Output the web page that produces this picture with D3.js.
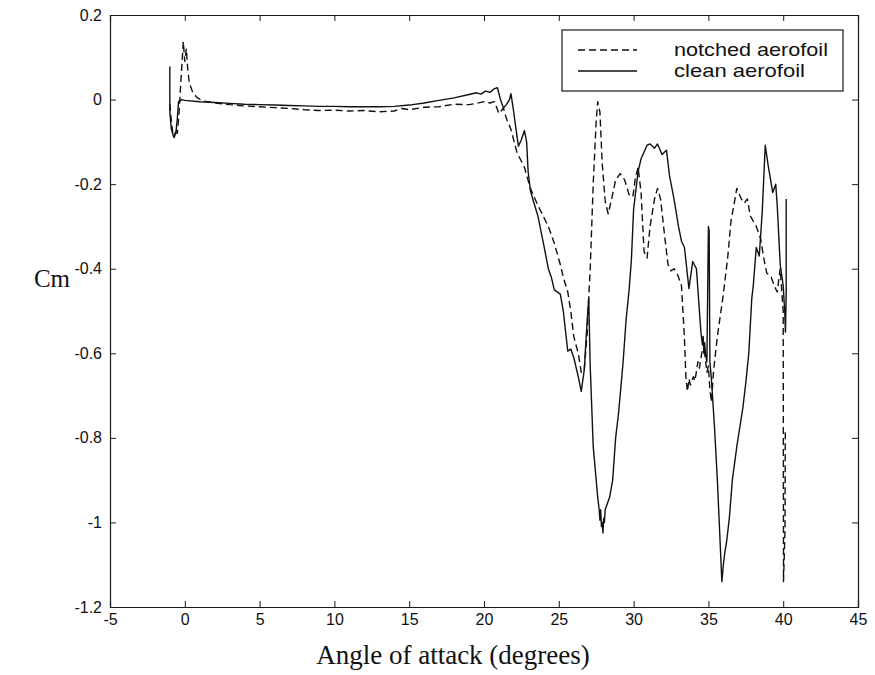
<!DOCTYPE html>
<html>
<head>
<meta charset="utf-8">
<script src="https://cdn.jsdelivr.net/npm/d3@7/dist/d3.min.js"></script>
<style>
  html, body { margin: 0; padding: 0; background: #fff; }
  svg { display: block; }
  .tick text { font-family: Arial, "Liberation Sans", Helvetica, sans-serif; fill: #111; }
</style>
</head>
<body>
<svg id="chart" width="875" height="675"></svg>
<script>
// Pitching moment coefficient vs angle of attack, notched and clean aerofoil

const xTicks = [-5, 0, 5, 10, 15, 20, 25, 30, 35, 40, 45];
const xTickLabels = ["-5", "0", "5", "10", "15", "20", "25", "30", "35", "40", "45"];
const yTicks = [0.2, 0, -0.2, -0.4, -0.6, -0.8, -1, -1.2];
const yTickLabels = ["0.2", "0", "-0.2", "-0.4", "-0.6", "-0.8", "-1", "-1.2"];

const seriesNames = ["notched aerofoil", "clean aerofoil"];

// clean aerofoil (solid)
const cleanAngle = [
  -1.0, -1.0, -0.9, -0.75, -0.6, -0.5, -0.42, -0.2, 0, 1, 2, 3, 4, 5, 6, 7, 8, 9, 10,
  11, 12, 13, 14, 15, 16, 17, 18, 19, 19.5, 19.8, 20.1, 20.4, 20.7, 20.9, 21.1, 21.3,
  21.5, 21.7, 21.8, 21.95, 22.1, 22.3, 22.5, 22.7, 22.85, 22.95, 23.1, 23.3, 23.6, 23.8,
  24.0, 24.3, 24.5, 24.7, 25.1, 25.3, 25.6, 25.8, 26.0, 26.3, 26.5, 26.7, 26.9, 27.0,
  27.1, 27.3, 27.6, 27.7, 27.75, 27.8, 27.85, 27.9, 27.95, 28.0, 28.05, 28.1, 28.2, 28.4,
  28.6, 28.8, 29.0, 29.3, 29.5, 29.7, 29.85, 30.0, 30.3, 30.5, 30.9, 31.1, 31.4, 31.6,
  31.9, 32.2, 32.4, 32.7, 33.0, 33.2, 33.4, 33.7, 33.95, 34.2, 34.5, 34.6, 34.65, 34.7,
  34.75, 34.8, 34.9, 35.0, 35.05, 35.1, 35.2, 35.4, 35.6, 35.8, 35.9, 36.0, 36.1, 36.2,
  36.4, 36.6, 36.9, 37.3, 37.5, 37.7, 37.9, 38.0, 38.2, 38.4, 38.6, 38.8, 39.0, 39.3,
  39.5, 39.6, 39.8, 40.0, 40.1, 40.15, 40.2, 40.2
];
const cleanCm = [
  0.078, -0.03, -0.07, -0.088, -0.08, -0.045, -0.005, 0.0, -0.002, -0.005, -0.007, -0.009,
  -0.011, -0.012, -0.013, -0.014, -0.015, -0.016, -0.016, -0.017, -0.017, -0.017, -0.016,
  -0.013, -0.008, -0.002, 0.004, 0.012, 0.016, 0.013, 0.02, 0.017, 0.026, 0.028, 0.0,
  -0.02, -0.012, 0.0, 0.014, -0.02, -0.06, -0.11, -0.095, -0.073, -0.1, -0.17, -0.215,
  -0.24, -0.275, -0.31, -0.345, -0.4, -0.42, -0.45, -0.46, -0.5, -0.595, -0.59, -0.61,
  -0.655, -0.69, -0.64, -0.52, -0.47, -0.63, -0.82, -0.94, -0.97, -0.995, -0.97, -1.01,
  -1.0, -1.025, -0.99, -1.0, -0.97, -0.96, -0.94, -0.9, -0.8, -0.74, -0.62, -0.52, -0.45,
  -0.38, -0.26, -0.17, -0.14, -0.108, -0.105, -0.115, -0.105, -0.13, -0.12, -0.18,
  -0.235, -0.3, -0.335, -0.35, -0.447, -0.383, -0.4, -0.55, -0.58, -0.56, -0.6, -0.575,
  -0.6, -0.62, -0.3, -0.31, -0.62, -0.66, -0.77, -0.9, -1.06, -1.14, -1.1, -1.07, -1.05,
  -0.99, -0.9, -0.82, -0.73, -0.67, -0.6, -0.47, -0.44, -0.35, -0.37, -0.265, -0.108,
  -0.157, -0.22, -0.2, -0.25, -0.39, -0.44, -0.5, -0.55, -0.46, -0.235
];

// notched aerofoil (dashed)
const notchedAngle = [
  -1.0, -0.9, -0.8, -0.7, -0.6, -0.5, -0.4, -0.3, -0.2, -0.1, 0.0, 0.1, 0.2, 0.3, 0.5,
  0.8, 1.2, 2, 3, 4, 5, 6, 7, 8, 9, 10, 11, 12, 13, 14, 14.5, 15, 16, 17, 18, 19, 19.5,
  20, 20.4, 20.7, 21.0, 21.3, 21.5, 21.8, 22.2, 22.7, 23.1, 23.6, 24.3, 24.7, 25.1, 25.3,
  25.6, 25.8, 26.0, 26.3, 26.5, 26.7, 26.9, 27.0, 27.1, 27.3, 27.5, 27.6, 27.75, 27.9,
  28.1, 28.3, 28.5, 28.8, 29.1, 29.4, 29.7, 29.95, 30.1, 30.3, 30.5, 30.7, 30.9, 31.1,
  31.4, 31.6, 31.8, 32.1, 32.3, 32.5, 32.7, 32.9, 33.2, 33.4, 33.5, 33.6, 33.7, 33.8,
  34.0, 34.1, 34.3, 34.4, 34.6, 34.75, 34.9, 35.0, 35.1, 35.2, 35.35, 35.6, 36.0, 36.3,
  36.5, 36.7, 36.9, 37.2, 37.4, 37.6, 37.8, 38.2, 38.5, 38.7, 38.9, 39.2, 39.4, 39.6,
  39.8, 40.0, 40.02, 40.12, 40.14
];
const notchedCm = [
  -0.01, -0.05, -0.08, -0.09, -0.07, -0.08, -0.04, 0.02, 0.08, 0.137, 0.09, 0.12, 0.07,
  0.04, 0.02, 0.005, -0.003, -0.008, -0.012, -0.015, -0.017, -0.019, -0.021, -0.024,
  -0.026, -0.025, -0.027, -0.026, -0.029, -0.027, -0.021, -0.024, -0.018, -0.017, -0.011,
  -0.012, -0.009, -0.005, -0.008, -0.005, -0.033, -0.02, -0.045, -0.07, -0.125, -0.16,
  -0.21, -0.25, -0.3, -0.34, -0.39, -0.42, -0.455, -0.5, -0.56, -0.6, -0.645, -0.64,
  -0.55, -0.47, -0.4, -0.2, -0.05, -0.005, -0.03, -0.15, -0.24, -0.27, -0.24, -0.19,
  -0.175, -0.19, -0.225, -0.23, -0.19, -0.16, -0.22, -0.36, -0.375, -0.3, -0.235, -0.21,
  -0.235, -0.33, -0.39, -0.405, -0.4, -0.41, -0.44, -0.565, -0.66, -0.69, -0.66, -0.675,
  -0.655, -0.665, -0.62, -0.635, -0.59, -0.6, -0.645, -0.63, -0.685, -0.715, -0.64, -0.56,
  -0.46, -0.37, -0.29, -0.25, -0.21, -0.235, -0.245, -0.235, -0.275, -0.3, -0.33, -0.375,
  -0.41, -0.42, -0.44, -0.455, -0.4, -0.5, -1.14, -1.02, -0.78
];

const svg = d3.select("#chart");
const W = 875, H = 675;
const margin = { left: 110, right: 17, top: 15, bottom: 68 };
const plotW = W - margin.left - margin.right;
const plotH = H - margin.top - margin.bottom;

const x = d3.scaleLinear().domain([-5, 45]).range([margin.left, margin.left + plotW]);
const y = d3.scaleLinear().domain([-1.2, 0.2]).range([margin.top + plotH, margin.top]);

const axisColor = "#1a1a1a";
const tickFont = 16;

// bottom axis with labels, inward ticks
const gx = svg.append("g")
  .attr("transform", `translate(0,${margin.top + plotH})`)
  .call(d3.axisBottom(x).tickValues(xTicks)
    .tickFormat((d, i) => xTickLabels[i]).tickSize(-6).tickPadding(7));
// top axis, ticks only
const gxt = svg.append("g")
  .attr("transform", `translate(0,${margin.top})`)
  .call(d3.axisTop(x).tickValues(xTicks).tickFormat("").tickSize(-6));
// left axis with labels
const gy = svg.append("g")
  .attr("transform", `translate(${margin.left},0)`)
  .call(d3.axisLeft(y).tickValues(yTicks)
    .tickFormat((d, i) => yTickLabels[i]).tickSize(-6).tickPadding(8));
// right axis, ticks only
const gyr = svg.append("g")
  .attr("transform", `translate(${margin.left + plotW},0)`)
  .call(d3.axisRight(y).tickValues(yTicks).tickFormat("").tickSize(-6));

[gx, gxt, gy, gyr].forEach(g => {
  g.selectAll("path.domain").attr("stroke", axisColor).attr("stroke-width", 1.2);
  g.selectAll(".tick line").attr("stroke", axisColor).attr("stroke-width", 1);
  g.selectAll(".tick text").attr("font-size", tickFont).attr("fill", "#111");
});

// line series
const line = d3.line().x(d => x(d[0])).y(d => y(d[1]));
const cleanData = cleanAngle.map((a, i) => [a, cleanCm[i]]);
const notchedData = notchedAngle.map((a, i) => [a, notchedCm[i]]);

svg.append("path")
  .datum(cleanData)
  .attr("d", line)
  .attr("fill", "none")
  .attr("stroke", "#111")
  .attr("stroke-width", 1.4)
  .attr("stroke-linejoin", "round");

svg.append("path")
  .datum(notchedData)
  .attr("d", line)
  .attr("fill", "none")
  .attr("stroke", "#111")
  .attr("stroke-width", 1.4)
  .attr("stroke-dasharray", "7,4")
  .attr("stroke-linejoin", "round");

// legend: two rows, text stretched slightly wider than its natural width
const lg = svg.append("g");
lg.append("rect")
  .attr("x", 562).attr("y", 30).attr("width", 281).attr("height", 61)
  .attr("fill", "#fff").attr("stroke", axisColor).attr("stroke-width", 1.2);
const legendStyles = ["7,4", null];
const legendTextWidths = [154, 131];
seriesNames.forEach((name, i) => {
  const ly = 50 + i * 21;
  const l = lg.append("line")
    .attr("x1", 578).attr("x2", 637).attr("y1", ly).attr("y2", ly)
    .attr("stroke", "#111").attr("stroke-width", 1.3);
  if (legendStyles[i]) l.attr("stroke-dasharray", legendStyles[i]);
  lg.append("text")
    .attr("x", 674).attr("y", ly + 6)
    .attr("font-family", "Arial, 'Liberation Sans', Helvetica, sans-serif")
    .attr("font-size", 19).attr("fill", "#111")
    .attr("textLength", legendTextWidths[i])
    .attr("lengthAdjust", "spacingAndGlyphs")
    .text(name);
});

// axis titles
svg.append("text")
  .attr("x", 453).attr("y", 664)
  .attr("text-anchor", "middle")
  .attr("font-family", "'Times New Roman', 'Liberation Serif', serif")
  .attr("font-size", 27).attr("fill", "#111")
  .text("Angle of attack (degrees)");
svg.append("text")
  .attr("x", 52).attr("y", 287)
  .attr("text-anchor", "middle")
  .attr("font-family", "'Times New Roman', 'Liberation Serif', serif")
  .attr("font-size", 25).attr("fill", "#111")
  .text("Cm");
</script>
</body>
</html>
